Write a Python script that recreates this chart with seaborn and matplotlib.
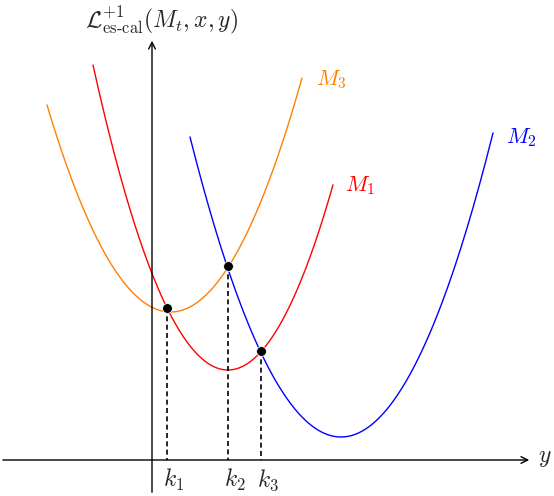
import numpy as np
import pandas as pd
import matplotlib.pyplot as plt
import seaborn as sns

sns.set_theme(style="white")
plt.rcParams['mathtext.fontset'] = 'cm'

# parabolas (pixel-space): vertex x, vertex y, curvature, x range
curves = ["M_3", "M_1", "M_2"]
vertex_x = [170.6, 227.9, 341.0]
vertex_y = [312, 370, 437]
curv = [0.01355, 0.01676, 0.01316]
x_from = [47, 93, 190]
x_to = [302, 333, 493]
colors = ["#ff8000", "#ff0000", "#0000ff"]
label_pos = [(331, 80), (360, 186), (521, 138)]

# intersection points
pt_x = [167, 228, 261]
pt_y = [308, 266, 351]
k_labels = [r"$k_1$", r"$k_2$", r"$k_3$"]

fig = plt.figure(figsize=(5.54, 4.96), dpi=100)
ax = fig.add_axes([0, 0, 1, 1])
ax.set_xlim(0, 554)
ax.set_ylim(496, 0)
ax.axis("off")

rows = []
for name, h, k, a, x0, x1 in zip(curves, vertex_x, vertex_y, curv, x_from, x_to):
    xs = np.linspace(x0, x1, 200)
    for xv in xs:
        rows.append({"curve": name, "x": xv, "y": k - a * (xv - h) ** 2})
df = pd.DataFrame(rows)
sns.lineplot(data=df, x="x", y="y", hue="curve", palette=dict(zip(curves, colors)),
             sort=False, estimator=None, lw=1.0, legend=False, ax=ax)
for name, c, (lx, ly) in zip(curves, colors, label_pos):
    ax.text(lx, ly, f"${name}$", color=c, fontsize=16, ha="center", va="center")

# axes arrows
ax.annotate("", xy=(532, 460), xytext=(0, 460),
            arrowprops=dict(arrowstyle="->", lw=1, color="black"))
ax.annotate("", xy=(152, 38), xytext=(152, 495),
            arrowprops=dict(arrowstyle="->", lw=1, color="black"))
ax.text(545, 457, r"$y$", fontsize=17, ha="center", va="center")
ax.text(162, 20, r"$\mathcal{L}^{+1}_{\mathrm{es\text{-}cal}}(M_t,x,y)$", fontsize=17,
        ha="center", va="center")

for px, py, kl in zip(pt_x, pt_y, k_labels):
    ax.plot([px, px], [py, 460], ls=(0, (3, 2)), color="black", lw=1.2)
    ax.text(px + 7, 480, kl, fontsize=17, ha="center", va="center")
sns.scatterplot(x=pt_x, y=pt_y, color="black", s=50, zorder=5, ax=ax)

fig.savefig("out.png", dpi=100)
